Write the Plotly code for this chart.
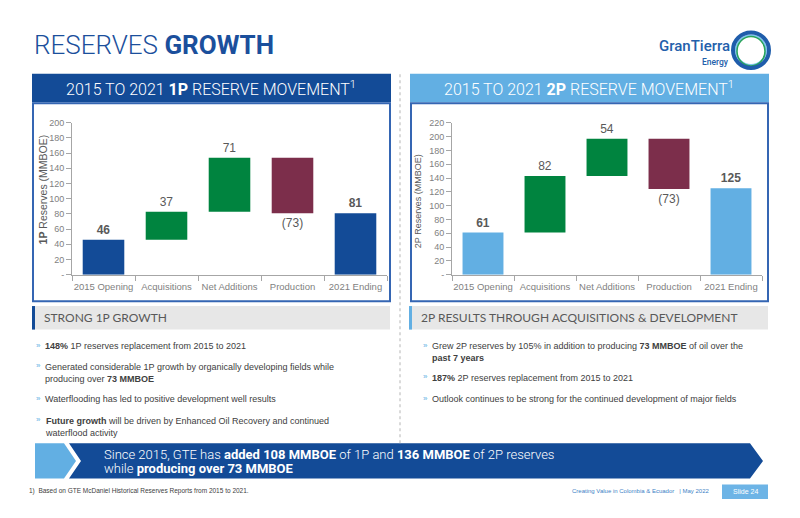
import plotly.graph_objects as go

# waterfall data (MMBOE)
steps = ['2015 Opening', 'Acquisitions', 'Net Additions', 'Production', '2021 Ending']
measures = ['absolute', 'relative', 'relative', 'relative', 'absolute']
p1_values = [46, 37, 71, -73, 81]
p2_values = [61, 82, 54, -73, 125]
p1_ticks = [0, 20, 40, 60, 80, 100, 120, 140, 160, 180, 200]
p2_ticks = [0, 20, 40, 60, 80, 100, 120, 140, 160, 180, 200, 220]

left_bullets = [
    '<b>148%</b> 1P reserves replacement from 2015 to 2021',
    'Generated considerable 1P growth by organically developing fields while<br>producing over <b>73 MMBOE</b>',
    'Waterflooding has led to positive development well results',
    '<b>Future growth</b> will be driven by Enhanced Oil Recovery and continued<br>waterflood activity',
]
right_bullets = [
    'Grew 2P reserves by 105% in addition to producing <b>73 MMBOE</b> of oil over the<br><b>past 7 years</b>',
    '<b>187%</b> 2P reserves replacement from 2015 to 2021',
    'Outlook continues to be strong for the continued development of major fields',
]

# page body has an 8px margin, so the figure is 784x502 placed at (8, 8)
OX, OY = 8, 8
W, H = 784, 502
DARK = '#134b97'
LIGHT = '#62afe3'
GREEN = '#00843f'
MAROON = '#7c2e4b'
AXC = '#a6a6a6'
LBL = '#7f7f7f'
TXT = '#404040'


def px(x):
    return (x - OX) / W


def py(y):
    return 1 - (y - OY) / H


def bar_labels(values):
    out = []
    for v, m in zip(values, measures):
        if m == 'absolute':
            out.append(f'<b>{v}</b>')
        elif v < 0:
            out.append(f'({-v})')
        else:
            out.append(str(v))
    return out


def waterfall(values, total_color, xa, ya):
    return go.Waterfall(
        x=steps, y=values, measure=measures, xaxis=xa, yaxis=ya,
        text=bar_labels(values), textposition='outside',
        textfont=dict(size=12, color='#595959', family='Liberation Sans'),
        increasing=dict(marker=dict(color=GREEN)),
        decreasing=dict(marker=dict(color=MAROON)),
        totals=dict(marker=dict(color=total_color)),
        connector=dict(visible=False), cliponaxis=False,
        showlegend=False, hoverinfo='skip')


fig = go.Figure()
fig.add_trace(waterfall(p1_values, DARK, 'x', 'y'))
fig.add_trace(waterfall(p2_values, LIGHT, 'x2', 'y2'))


def xaxis_style(x0, x1, anchor):
    return dict(domain=[px(x0), px(x1)], anchor=anchor, type='category',
                showline=True, linecolor=AXC, linewidth=1, ticks='outside',
                tickson='boundaries', ticklen=5, tickcolor=AXC, tickangle=0,
                ticklabelstandoff=3,
                tickfont=dict(size=9.5, color=LBL, family='Liberation Sans'),
                showgrid=False, zeroline=False)


def yaxis_style(ticks, y_top, anchor):
    return dict(domain=[py(275), py(y_top)], anchor=anchor,
                range=[0, ticks[-1]], tickvals=ticks,
                ticktext=['-'] + [str(t) for t in ticks[1:]],
                showline=True, linecolor=AXC, linewidth=1, ticks='outside',
                ticklen=5, tickcolor=AXC,
                tickfont=dict(size=9, color=LBL, family='Liberation Sans'),
                showgrid=False, zeroline=False)


shapes = []
ann = []


def rect(x0, y0, x1, y1, fill=None, line=None, lw=0):
    shapes.append(dict(type='rect', xref='paper', yref='paper',
                       x0=px(x0), x1=px(x1), y0=py(y1), y1=py(y0),
                       fillcolor=fill or 'rgba(0,0,0,0)',
                       line=dict(color=line or 'rgba(0,0,0,0)', width=lw),
                       layer='below'))


def ring(x0, y0, x1, y1, color, lw):
    shapes.append(dict(type='circle', xref='paper', yref='paper',
                       x0=px(x0), x1=px(x1), y0=py(y1), y1=py(y0),
                       line=dict(color=color, width=lw)))


def poly(points, fill):
    d = 'M ' + ' L '.join(f'{px(x):.5f},{py(y):.5f}' for x, y in points) + ' Z'
    shapes.append(dict(type='path', xref='paper', yref='paper', path=d,
                       fillcolor=fill, line=dict(width=0), layer='below'))


def text(x, y, s, size, color, xanchor='left', yanchor='middle', family='Roboto',
         weight=None, angle=0):
    f = dict(size=size, color=color, family=family)
    if weight:
        f['weight'] = weight
    ann.append(dict(x=px(x), y=py(y), xref='paper', yref='paper', text=s,
                    showarrow=False, xanchor=xanchor, yanchor=yanchor,
                    font=f, align='left', textangle=angle))


# title and logo
text(32, 41, 'RESERVES <b>GROWTH</b>', 26, '#1b4f9c', weight=300)
text(732, 42, 'GranTierra', 15, '#2360ab', xanchor='right', family='Roboto', weight=500)
text(731, 58, 'Energy', 8.5, '#2360ab', xanchor='right', family='Roboto', weight=500)
ring(736, 31, 766, 61, '#7cc7ee', 2)
ring(737, 32, 765, 62, '#2aa35a', 1.5)
ring(733, 28, 769, 64, '#1f5dab', 4)

# headers
rect(32, 70, 391, 99, fill=DARK)
rect(410, 70, 769, 99, fill=LIGHT)
text(211, 85, '2015 TO 2021 <b>1P</b> RESERVE MOVEMENT<sup>1</sup>', 16, 'white',
     xanchor='center', weight=300)
text(589, 85, '2015 TO 2021 <b>2P</b> RESERVE MOVEMENT<sup>1</sup>', 16, 'white',
     xanchor='center', weight=300)

# chart boxes
rect(33, 100, 390, 302, line='#3566b3', lw=2)
rect(411, 100, 768, 302, line='#3566b3', lw=2)
text(43, 188, '<b>1P</b> Reserves (MMBOE)', 10.5, '#595959', xanchor='center',
     family='Liberation Sans', angle=-90)
text(418, 200, '2P Reserves (MMBOE)', 9, '#595959', xanchor='center',
     family='Liberation Sans', angle=-90)

# separator
shapes.append(dict(type='line', xref='paper', yref='paper', x0=px(400), x1=px(400),
                   y0=py(447), y1=py(70), line=dict(color='#b5b5b5', width=1, dash='dot')))

# section bars
rect(32, 307, 390, 331, fill='#e7e7e7')
rect(32, 307, 35, 331, fill=DARK)
rect(409, 307, 768, 331, fill='#e7e7e7')
rect(409, 307, 412, 331, fill=LIGHT)
text(42, 319, 'STRONG 1P GROWTH', 12, '#595959', family='Lato')
text(419, 319, '2P RESULTS THROUGH ACQUISITIONS &amp; DEVELOPMENT', 12, '#595959', family='Lato')

for s, y in zip(left_bullets, [347, 368, 401, 423]):
    text(34, y, '»', 8, LIGHT, family='Liberation Sans')
    text(43, y - 6, s, 9, TXT, yanchor='top', family='Liberation Sans')
for s, y in zip(right_bullets, [347, 379, 401]):
    text(421, y, '»', 8, LIGHT, family='Liberation Sans')
    text(430, y - 6, s, 9, TXT, yanchor='top', family='Liberation Sans')

# banner
poly([(35, 447), (64, 447), (76, 465), (64, 483), (35, 483)], LIGHT)
poly([(69, 447), (750, 447), (763, 465), (750, 483), (69, 483), (81, 465)], DARK)
text(102, 458, 'Since 2015, GTE has <b>added 108 MMBOE</b> of 1P and <b>136 MMBOE</b> of 2P reserves',
     13, 'white', weight=300)
text(102, 473, 'while <b>producing over 73 MMBOE</b>', 13, 'white', weight=300)

# footer
text(27, 496, '1)  Based on GTE McDaniel Historical Reserves Reports from 2015 to 2021.', 6.5,
     TXT, family='Liberation Sans')
text(712, 496, 'Creating Value in Colombia &amp; Ecuador   | May 2022', 6, '#3d7fc6',
     xanchor='right', family='Liberation Sans')
rect(722, 489, 768, 504, fill='#6db4e6')
text(745, 496.5, 'Slide 24', 7, 'white', xanchor='center', family='Liberation Sans')

fig.update_layout(
    width=W, height=H, margin=dict(l=0, r=0, t=0, b=0),
    paper_bgcolor='white', plot_bgcolor='white',
    waterfallgap=0.34,
    xaxis=xaxis_style(72, 387, 'y'),
    yaxis=yaxis_style(p1_ticks, 120, 'x'),
    xaxis2=xaxis_style(452, 762, 'y2'),
    yaxis2=yaxis_style(p2_ticks, 120, 'x2'),
    shapes=shapes, annotations=ann,
)

fig.write_html('out.html')
